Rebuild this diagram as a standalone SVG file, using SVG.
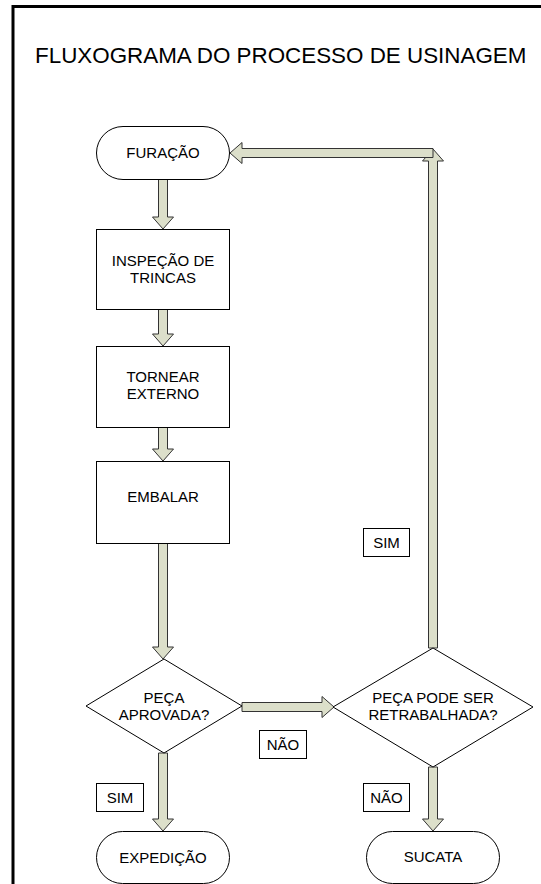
<svg xmlns="http://www.w3.org/2000/svg" width="541" height="884" viewBox="0 0 541 884">
  <style>
    text { font-family: "Liberation Sans", Arial, sans-serif; font-size: 15px; fill: #000; text-anchor: middle; }
    .title { font-size: 22.4px; text-anchor: start; }
    .shape { fill: #fff; stroke: #000; stroke-width: 1; }
    .label { fill: #fff; stroke: #000; stroke-width: 1; }
    .arrow { fill: #dcdfca; stroke: #333; stroke-width: 1; stroke-linejoin: miter; }
  </style>
  <rect width="541" height="884" fill="#fff"/>

  <!-- page frame -->
  <path d="M13 884 V6.5 H541" fill="none" stroke="#000" stroke-width="3"/>

  <text class="title" x="35" y="63">FLUXOGRAMA DO PROCESSO DE USINAGEM</text>

  <!-- block-arrow connectors -->
  <g id="connectors">
    <polygon class="arrow" points="158.5,179 167.5,179 167.5,217 173.5,217 163,229 152.5,217 158.5,217"/>
    <polygon class="arrow" points="158.5,309 167.5,309 167.5,334 173.5,334 163,346 152.5,334 158.5,334"/>
    <polygon class="arrow" points="158.5,427 167.5,427 167.5,449 173.5,449 163,461 152.5,449 158.5,449"/>
    <polygon class="arrow" points="158.5,543 167.5,543 167.5,647 173.5,647 163,659 152.5,647 158.5,647"/>
    <polygon class="arrow" points="158.5,753 167.5,753 167.5,819 173.5,819 163,831 152.5,819 158.5,819"/>
    <polygon class="arrow" points="242,702.5 242,711.5 322,711.5 322,717.5 334,707 322,696.5 322,702.5"/>
    <polygon class="arrow" points="428.5,767 437.5,767 437.5,819 443.5,819 433,831 422.5,819 428.5,819"/>
    <polygon class="arrow" points="428.5,648 437.5,648 437.5,161 443.5,161 433,149 422.5,161 428.5,161"/>
    <polygon class="arrow" points="433,148.5 433,157.5 242,157.5 242,163.5 230,153 242,142.5 242,148.5"/>
  </g>

  <g id="furacao">
    <rect class="shape" x="96.5" y="126.5" width="133" height="53" rx="26.5"/>
    <text x="163" y="158">FURAÇÃO</text>
  </g>

  <g id="inspecao">
    <rect class="shape" x="96.5" y="229.5" width="133" height="80"/>
    <text x="163" y="266">INSPEÇÃO DE</text>
    <text x="163" y="283">TRINCAS</text>
  </g>

  <g id="tornear">
    <rect class="shape" x="96.5" y="346.5" width="133" height="81"/>
    <text x="163" y="382">TORNEAR</text>
    <text x="163" y="399">EXTERNO</text>
  </g>

  <g id="embalar">
    <rect class="shape" x="96.5" y="461.5" width="133" height="82"/>
    <text x="163" y="502">EMBALAR</text>
  </g>

  <g id="peca-aprovada">
    <polygon class="shape" points="164,659 242,706 164,753 86,706"/>
    <text x="164" y="702.5">PEÇA</text>
    <text x="164" y="719.5">APROVADA?</text>
  </g>

  <g id="peca-retrabalhada">
    <polygon class="shape" points="433,648 533,707 433,767 333,707"/>
    <text x="433" y="703">PEÇA PODE SER</text>
    <text x="433" y="720">RETRABALHADA?</text>
  </g>

  <g id="expedicao">
    <rect class="shape" x="96.5" y="831.5" width="133" height="52" rx="26"/>
    <text x="163" y="863">EXPEDIÇÃO</text>
  </g>

  <g id="sucata">
    <rect class="shape" x="366.5" y="831.5" width="133" height="52" rx="26"/>
    <text x="433" y="862">SUCATA</text>
  </g>

  <!-- decision labels -->
  <g id="label-sim-retrabalho">
    <rect class="label" x="363.5" y="528.5" width="46" height="28"/>
    <text x="386.5" y="548">SIM</text>
  </g>
  <g id="label-nao-aprovada">
    <rect class="label" x="259.5" y="730.5" width="47" height="28"/>
    <text x="283" y="750">NÃO</text>
  </g>
  <g id="label-sim-aprovada">
    <rect class="label" x="96.5" y="783.5" width="47" height="28"/>
    <text x="120" y="803">SIM</text>
  </g>
  <g id="label-nao-retrabalho">
    <rect class="label" x="363.5" y="783.5" width="46" height="28"/>
    <text x="386.5" y="803">NÃO</text>
  </g>
</svg>
